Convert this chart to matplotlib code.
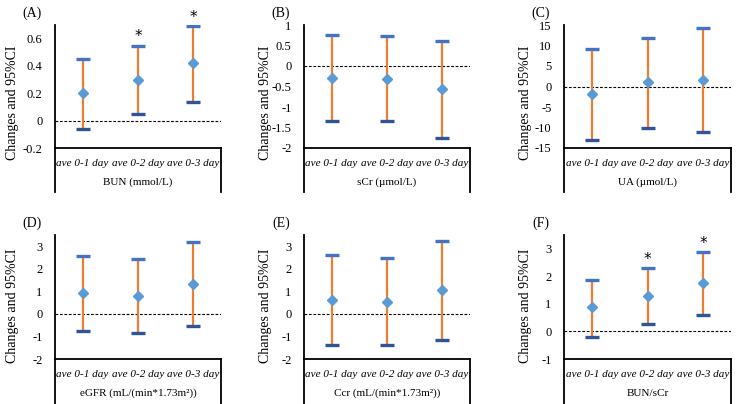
import numpy as np
import matplotlib.pyplot as plt

plt.rcParams['font.family'] = ['Liberation Serif', 'DejaVu Serif']

cats = ["ave 0-1 day", "ave 0-2 day", "ave 0-3 day"]

# estimates (point, lower, upper) per panel
bun_est = [0.20, 0.30, 0.42]
bun_lo = [-0.06, 0.05, 0.14]
bun_hi = [0.45, 0.55, 0.69]
bun_sig = [False, True, True]

scr_est = [-0.30, -0.31, -0.57]
scr_lo = [-1.35, -1.34, -1.75]
scr_hi = [0.75, 0.72, 0.60]
scr_sig = [False, False, False]

ua_est = [-1.8, 1.0, 1.6]
ua_lo = [-13.0, -10.0, -11.2]
ua_hi = [9.2, 11.8, 14.2]
ua_sig = [False, False, False]

egfr_est = [0.92, 0.80, 1.33]
egfr_lo = [-0.75, -0.85, -0.55]
egfr_hi = [2.57, 2.42, 3.20]
egfr_sig = [False, False, False]

ccr_est = [0.62, 0.55, 1.05]
ccr_lo = [-1.38, -1.40, -1.17]
ccr_hi = [2.60, 2.47, 3.25]
ccr_sig = [False, False, False]

ratio_est = [0.87, 1.30, 1.75]
ratio_lo = [-0.20, 0.27, 0.58]
ratio_hi = [1.88, 2.30, 2.87]
ratio_sig = [False, True, True]

W, H = 739, 404
fig = plt.figure(figsize=(W / 100, H / 100), dpi=100)

panels = [
    ("(A)", "BUN (mmol/L)", bun_est, bun_lo, bun_hi, bun_sig, (-0.2, 0.7),
     [-0.2, 0, 0.2, 0.4, 0.6], ["-0.2", "0", "0.2", "0.4", "0.6"], 0),
    ("(B)", "sCr (µmol/L)", scr_est, scr_lo, scr_hi, scr_sig, (-2, 1),
     [-2, -1.5, -1, -0.5, 0, 0.5, 1], ["-2", "-1.5", "-1", "-0.5", "0", "0.5", "1"], 1),
    ("(C)", "UA (µmol/L)", ua_est, ua_lo, ua_hi, ua_sig, (-15, 15),
     [-15, -10, -5, 0, 5, 10, 15], ["-15", "-10", "-5", "0", "5", "10", "15"], 2),
    ("(D)", "eGFR (mL/(min*1.73m²))", egfr_est, egfr_lo, egfr_hi, egfr_sig, (-2, 3.5),
     [-2, -1, 0, 1, 2, 3], ["-2", "-1", "0", "1", "2", "3"], 3),
    ("(E)", "Ccr (mL/(min*1.73m²))", ccr_est, ccr_lo, ccr_hi, ccr_sig, (-2, 3.5),
     [-2, -1, 0, 1, 2, 3], ["-2", "-1", "0", "1", "2", "3"], 4),
    ("(F)", "BUN/sCr", ratio_est, ratio_lo, ratio_hi, ratio_sig, (-1, 3.5),
     [-1, 0, 1, 2, 3], ["-1", "0", "1", "2", "3"], 5),
]

cols = [(55, 221), (304, 470), (564, 731)]
rows = [(25, 148, 192), (235, 359, 404)]
lab_x = [32, 281, 541]
ylab_x = [13, 265, 525]
ylab_y = [103, 306]

x = np.arange(len(cats))
for label, title, est, lo, hi, sig, ylim, yt, ytl, i in panels:
    c, r = i % 3, i // 3
    l, rt = cols[c]
    t, b, bb = rows[r]
    ax = fig.add_axes([l / W, 1 - b / H, (rt - l) / W, (b - t) / H])
    ax.set_xlim(-0.5, 2.5)
    ax.set_ylim(*ylim)
    ax.vlines(x, lo, hi, color="#ED7D31", lw=1.6, zorder=2)
    ax.plot(x, hi, ls="none", marker="_", ms=10, mew=2.4, color="#4472C4", zorder=3)
    ax.plot(x, lo, ls="none", marker="_", ms=10, mew=2.4, color="#2F5597", zorder=3)
    ax.plot(x, est, ls="none", marker="D", ms=5.5, color="#5B9BD5", mec="#5B9BD5", zorder=4)
    ax.axhline(0, color="black", lw=0.8, ls=(0, (2.5, 1.5)), zorder=1)
    span = ylim[1] - ylim[0]
    for xi, h, s in zip(x, hi, sig):
        if s:
            ax.text(xi, h + span * 0.01, "*", ha="center", va="bottom", fontsize=11,
                    fontfamily="DejaVu Sans")
    for side in ["top", "right"]:
        ax.spines[side].set_visible(False)
    ax.spines["left"].set_linewidth(1.3)
    ax.spines["bottom"].set_linewidth(1.3)
    ax.set_yticks(yt)
    ax.set_yticklabels(ytl, fontsize=9)
    ax.tick_params(axis="y", length=0, pad=9)
    ax.set_xticks(x)
    ax.set_xticklabels(cats, fontsize=8, style="italic")
    ax.tick_params(axis="x", length=0, pad=8)
    # table box below the plot area
    ext = (bb - b) / (b - t)
    for xx in (0, 1):
        ax.plot([xx, xx], [0, -ext], transform=ax.transAxes, color="black",
                lw=1.3, clip_on=False)
    fig.text((l + rt) / 2 / W, 1 - (b + 34) / H, title, ha="center", va="center", fontsize=8)
    fig.text(lab_x[c] / W, 1 - (t - 12) / H, label, ha="center", va="center", fontsize=10)
    fig.text(ylab_x[c] / W, 1 - ylab_y[r] / H, "Changes and 95%CI", rotation=90,
             ha="center", va="center", fontsize=10)

fig.savefig("out.png", dpi=100)
